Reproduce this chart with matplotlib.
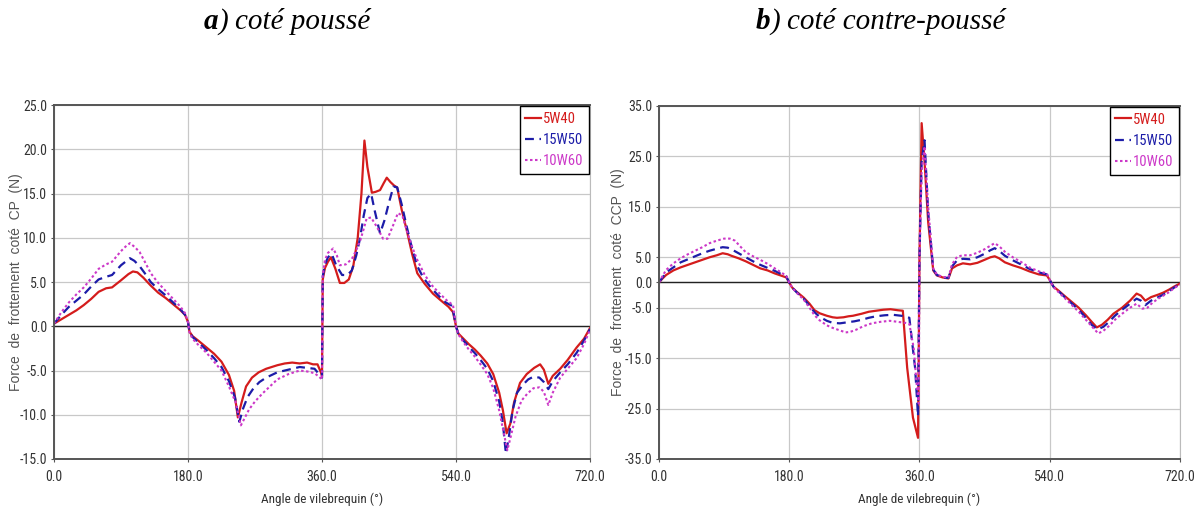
import matplotlib
matplotlib.use("Agg")
import matplotlib.pyplot as plt

# ---- data (angle in degrees, force in N) ----
# a) coté poussé (CP)
cpRedX = [0, 10, 20, 30, 40, 50, 60, 70, 78, 90, 100, 106, 112, 120, 130, 140, 150, 160, 170, 176, 180,
          182, 186, 195, 205, 215, 225, 235, 242, 247, 252, 258, 266, 275, 285, 300, 310, 320, 330, 340, 348, 354, 359, 360,
          361, 364, 368, 372, 378, 384, 390, 396, 402, 408, 413, 417, 421, 427, 432, 438, 443, 447, 452, 457, 461, 467, 474,
          481, 488, 498, 509, 520, 530, 536, 540,
          543, 550, 557, 565, 573, 582, 590, 598, 603, 608, 613, 618, 626, 635, 645, 653, 658, 664, 670, 680, 690, 702, 712, 720]
cpRedY = [0.3, 0.8, 1.3, 1.8, 2.4, 3.1, 3.9, 4.3, 4.4, 5.2, 5.9, 6.2, 6.1, 5.5, 4.6, 3.8, 3.2, 2.5, 1.8, 1.3, 0.5,
          -0.6, -1.1, -1.7, -2.4, -3.1, -4.0, -5.5, -7.3, -10.3, -8.6, -6.8, -5.8, -5.2, -4.8, -4.4, -4.2, -4.1, -4.2, -4.1, -4.3, -4.3, -5.3, -5.6,
          5.3, 6.6, 7.3, 7.8, 6.5, 4.9, 4.9, 5.3, 6.8, 10.0, 15.0, 21.0, 18.0, 15.1, 15.2, 15.4, 16.2, 16.8, 16.3, 15.9, 15.7, 13.2, 10.8,
          8.2, 6.0, 4.8, 3.7, 2.9, 2.2, 1.6, 0.0,
          -0.8, -1.4, -2.0, -2.6, -3.3, -4.2, -5.4, -7.5, -9.5, -12.1, -11.0, -8.6, -6.4, -5.4, -4.7, -4.3, -4.9, -6.5, -5.6, -4.8, -3.8, -2.4, -1.4, -0.2]

cpBlueX = [0, 10, 20, 30, 40, 50, 60, 70, 78, 90, 96, 102, 108, 115, 122, 130, 140, 150, 160, 170, 176, 180,
           182, 186, 195, 205, 215, 225, 235, 243, 249, 254, 260, 268, 276, 285, 300, 315, 330, 340, 350, 356, 360,
           361, 364, 368, 373, 379, 387, 394, 400, 406, 411, 416, 421, 426, 431, 438, 444, 450, 456, 461, 467, 474,
           481, 488, 496, 506, 516, 526, 535, 540,
           543, 550, 557, 565, 573, 582, 590, 598, 603, 607, 611, 616, 622, 630, 637, 644, 652, 658, 664, 670, 680, 690, 702, 712, 720]
cpBlueY = [0.3, 1.3, 2.2, 2.9, 3.6, 4.5, 5.3, 5.6, 5.8, 6.9, 7.3, 7.7, 7.4, 6.8, 6.0, 5.0, 4.2, 3.5, 2.7, 1.9, 1.3, 0.5,
           -0.6, -1.2, -1.9, -2.7, -3.6, -4.6, -6.2, -8.0, -10.8, -9.3, -8.0, -7.0, -6.3, -5.8, -5.2, -4.9, -4.6, -4.7, -4.8, -5.4, -5.8,
           5.6, 7.0, 7.8, 8.2, 6.9, 5.8, 5.8, 6.3, 8.0, 9.9, 12.5, 14.5, 15.0, 13.0, 10.5, 12.0, 14.0, 15.8, 15.7, 13.8, 11.2,
           8.8, 6.8, 5.5, 4.4, 3.5, 2.7, 2.3, 0.0,
           -0.8, -1.6, -2.3, -3.0, -3.8, -4.8, -6.2, -8.5, -11.0, -14.4, -12.5, -9.5, -7.5, -6.6, -6.0, -5.7, -5.8, -6.3, -7.1, -6.2, -5.2, -4.3, -3.0, -1.6, -0.3]

cpPinkX = [0, 10, 20, 30, 40, 50, 60, 70, 78, 90, 96, 102, 108, 115, 122, 130, 140, 150, 160, 170, 176, 180,
           182, 186, 195, 205, 215, 225, 235, 244, 251, 256, 262, 270, 280, 290, 300, 315, 330, 340, 350, 356, 360,
           361, 364, 368, 375, 380, 384, 392, 400, 406, 411, 416, 420, 426, 434, 442, 448, 455, 462, 468, 474,
           481, 488, 498, 508, 518, 528, 536, 540,
           543, 550, 557, 565, 573, 582, 590, 598, 604, 609, 614, 620, 628, 636, 644, 652, 658, 664, 670, 680, 690, 702, 712, 720]
cpPinkY = [0.3, 1.6, 2.7, 3.6, 4.4, 5.4, 6.5, 7.0, 7.3, 8.5, 9.0, 9.4, 9.0, 8.4, 7.3, 6.0, 4.9, 4.0, 3.1, 2.2, 1.5, 0.5,
           -0.7, -1.4, -2.2, -3.0, -4.0, -5.0, -6.8, -8.6, -11.2, -10.4, -9.4, -8.5, -7.6, -6.8, -6.0, -5.4, -5.0, -5.1, -5.3, -5.7, -6.0,
           5.8, 7.5, 8.3, 8.8, 8.0, 6.9, 7.0, 7.6, 8.6, 9.6, 11.0, 12.2, 12.3, 11.2, 9.9, 9.9, 11.3, 12.8, 12.5, 10.8,
           9.0, 7.5, 5.8, 4.6, 3.7, 2.9, 2.4, 0.0,
           -0.9, -1.8, -2.6, -3.4, -4.3, -5.4, -7.0, -9.5, -12.0, -14.0, -12.3, -10.2, -8.4, -7.6, -7.0, -6.9, -7.4, -8.9, -7.5, -5.8, -4.8, -3.6, -2.0, -0.4]

# b) coté contre-poussé (CCP)
ccpRedX = [0, 5, 10, 20, 30, 40, 50, 60, 70, 80, 88, 95, 100, 110, 120, 130, 140, 150, 160, 170, 176, 180,
           184, 190, 200, 208, 215, 222, 232, 240, 246, 255, 262, 268, 280, 290, 300, 310, 320, 330, 337, 343, 351, 358,
           360, 363, 367, 372, 379, 384, 392, 400, 405, 412, 420, 430, 440, 450, 458, 464, 470, 478, 489, 500, 512, 525, 536, 540,
           545, 552, 560, 570, 580, 590, 598, 605, 612, 620, 628, 640, 651, 660, 666, 672, 680, 690, 697, 705, 712, 720]
ccpRedY = [0.0, 0.8, 1.5, 2.4, 3.0, 3.5, 4.0, 4.5, 5.0, 5.4, 5.8, 5.6, 5.3, 4.8, 4.2, 3.5, 2.8, 2.4, 1.8, 1.3, 1.0, 0.0,
           -1.0, -1.8, -3.0, -4.2, -5.5, -6.1, -6.6, -6.9, -7.0, -6.9, -6.7, -6.6, -6.2, -5.8, -5.6, -5.4, -5.3, -5.5, -5.6, -16.9, -26.8, -30.8,
           5.0, 31.6, 24.0, 12.0, 2.4, 1.4, 1.0, 0.8, 2.8, 3.4, 3.8, 3.6, 3.9, 4.5, 5.0, 5.2, 4.8, 4.0, 3.4, 2.9, 2.2, 1.6, 1.4, 0.5,
           -0.8, -1.6, -2.6, -3.8, -5.0, -6.5, -7.8, -8.9, -8.4, -7.4, -6.2, -5.0, -3.6, -2.2, -2.6, -3.6, -2.9, -2.4, -2.0, -1.4, -0.8, -0.2]

ccpBlueX = [0, 5, 10, 20, 30, 40, 50, 60, 70, 80, 88, 95, 100, 110, 120, 130, 140, 150, 160, 170, 176, 180,
            184, 190, 200, 208, 215, 222, 232, 240, 250, 260, 270, 280, 290, 300, 312, 323, 335, 342, 346, 354, 358,
            360, 363, 367, 372, 379, 384, 392, 400, 405, 412, 420, 430, 440, 450, 458, 464, 470, 478, 489, 500, 512, 525, 536, 540,
            545, 552, 560, 570, 580, 590, 598, 606, 614, 622, 630, 640, 651, 660, 666, 672, 680, 690, 697, 705, 712, 720]
ccpBlueY = [0.0, 1.0, 2.0, 3.0, 4.0, 4.6, 5.2, 5.8, 6.3, 6.7, 7.0, 6.9, 6.6, 5.8, 5.0, 4.2, 3.5, 2.9, 2.3, 1.6, 1.2, 0.0,
            -1.0, -1.9, -3.2, -4.6, -5.9, -6.8, -7.6, -8.0, -8.1, -7.9, -7.7, -7.4, -7.0, -6.7, -6.5, -6.4, -6.6, -6.8, -7.0, -17.0, -26.5,
            5.0, 24.0, 28.2, 14.0, 2.6, 1.5, 1.0, 0.9, 3.2, 4.4, 4.7, 4.6, 5.0, 5.7, 6.4, 6.8, 6.3, 5.3, 4.4, 3.6, 2.7, 2.0, 1.6, 0.5,
            -0.8, -1.7, -2.8, -4.1, -5.4, -7.0, -8.4, -9.3, -8.8, -7.8, -6.6, -5.4, -4.2, -3.2, -3.6, -4.5, -3.6, -2.9, -2.4, -1.7, -1.0, -0.3]

ccpPinkX = [0, 5, 10, 20, 30, 40, 50, 60, 70, 80, 90, 98, 105, 112, 120, 130, 140, 150, 160, 170, 176, 180,
            184, 190, 200, 208, 215, 222, 232, 240, 250, 258, 264, 272, 282, 294, 306, 319, 330, 340, 346, 352, 356, 359,
            360, 363, 367, 372, 379, 384, 392, 400, 405, 412, 420, 430, 440, 450, 458, 464, 470, 478, 489, 500, 512, 525, 536, 540,
            545, 552, 560, 570, 580, 590, 600, 607, 614, 622, 630, 640, 651, 660, 668, 675, 682, 690, 697, 705, 712, 720]
ccpPinkY = [0.0, 1.3, 2.5, 3.8, 4.8, 5.6, 6.3, 7.0, 7.8, 8.3, 8.7, 8.7, 8.3, 7.2, 6.0, 5.2, 4.5, 3.7, 2.8, 1.9, 1.3, 0.0,
            -1.0, -2.0, -3.4, -5.0, -6.5, -7.5, -8.5, -9.0, -9.5, -9.9, -9.8, -9.4, -8.7, -8.1, -7.8, -7.6, -7.8, -8.0, -8.2, -13.0, -20.0, -24.0,
            5.0, 22.0, 27.0, 15.0, 2.8, 1.6, 1.1, 1.0, 3.6, 5.1, 5.4, 5.4, 5.9, 6.6, 7.3, 7.8, 7.2, 6.1, 5.0, 4.1, 3.0, 2.2, 1.8, 0.5,
            -0.9, -1.9, -3.0, -4.4, -5.8, -7.4, -9.0, -10.1, -9.6, -8.6, -7.4, -6.2, -5.0, -4.2, -5.2, -5.0, -4.0, -3.2, -2.6, -1.9, -1.1, -0.4]

seriesNames = ["5W40", "15W50", "10W60"]
colors = ["#d41c1c", "#1c1ca8", "#cc38c8"]

narrow = ["Liberation Sans Narrow", "Roboto Condensed", "DejaVu Sans Condensed", "Liberation Sans"]
plt.rcParams["font.family"] = narrow

fig = plt.figure(figsize=(11.97, 5.18), dpi=100)
axA = fig.add_axes([0.0451, 0.1139, 0.4478, 0.6831])
axB = fig.add_axes([0.5505, 0.1139, 0.4353, 0.6815])


def plotPanel(ax, xs, ys, ylim, yticks, ylabel, labx):
    styles = [dict(linestyle="-", linewidth=1.6),
              dict(linestyle=(0, (4, 2.5)), linewidth=1.6),
              dict(linestyle=(0, (1.2, 1.2)), linewidth=1.5)]
    handles = []
    for x, y, name, c, st in zip(xs, ys, seriesNames, colors, styles):
        h, = ax.plot(x, y, color=c, label=name, **st)
        handles.append(h)
    ax.axhline(0, color="#222222", linewidth=1.0, zorder=1)
    ax.set_xlim(0, 720)
    ax.set_ylim(*ylim)
    ax.set_xticks([0, 180, 360, 540, 720])
    ax.set_xticklabels(["0.0", "180.0", "360.0", "540.0", "720.0"])
    ax.set_yticks(yticks)
    ax.set_yticklabels(["%.1f" % v for v in yticks])
    ax.grid(True, color="#c8c8c8", linewidth=0.9)
    ax.set_axisbelow(True)
    ax.tick_params(axis="both", labelsize=10, length=2, color="#555555", pad=3, labelcolor="#333333")
    ax.tick_params(axis="x", pad=6)
    for s in ["top", "bottom", "left"]:
        ax.spines[s].set_color("#555555")
        ax.spines[s].set_linewidth(1.4)
    ax.spines["right"].set_color("#bbbbbb")
    ax.set_xlabel("Angle de vilebrequin (°)", fontsize=9.5, labelpad=6, color="#333333")
    ax.set_ylabel(ylabel, fontsize=10, family=["Liberation Sans", "DejaVu Sans"], color="#555555")
    ax.yaxis.set_label_coords(labx, 0.5)
    leg = ax.legend(handles=handles, loc="upper right", fontsize=10.5, fancybox=False,
                    framealpha=1, edgecolor="black", borderpad=0.4, handlelength=1.1,
                    handletextpad=0.1, labelspacing=0.5, borderaxespad=0.05)
    leg.get_frame().set_linewidth(1.0)
    for t, c in zip(leg.get_texts(), colors):
        t.set_color(c)


plotPanel(axA, [cpRedX, cpBlueX, cpPinkX], [cpRedY, cpBlueY, cpPinkY],
          (-15, 25), [-15, -10, -5, 0, 5, 10, 15, 20, 25],
          "Force  de  frottement  coté  CP  (N)", -0.058)
plotPanel(axB, [ccpRedX, ccpBlueX, ccpPinkX], [ccpRedY, ccpBlueY, ccpPinkY],
          (-35, 35), [-35, -25, -15, -5, 0, 5, 15, 25, 35],
          "Force  de  frottement  coté  CCP  (N)", -0.066)

serif = ["Liberation Serif", "DejaVu Serif"]
for x0, letter, rest in [(0.170, "a)", " coté poussé"), (0.631, "b)", " coté contre-poussé")]:
    t1 = fig.text(x0, 0.944, letter[0], fontsize=21, family=serif, style="italic", weight="bold", va="baseline")
    axA.annotate(letter[1] + rest, xy=(1, 0), xycoords=t1, fontsize=21, family=serif,
                 style="italic", va="bottom", ha="left", annotation_clip=False)

fig.savefig("out.png", dpi=100)
